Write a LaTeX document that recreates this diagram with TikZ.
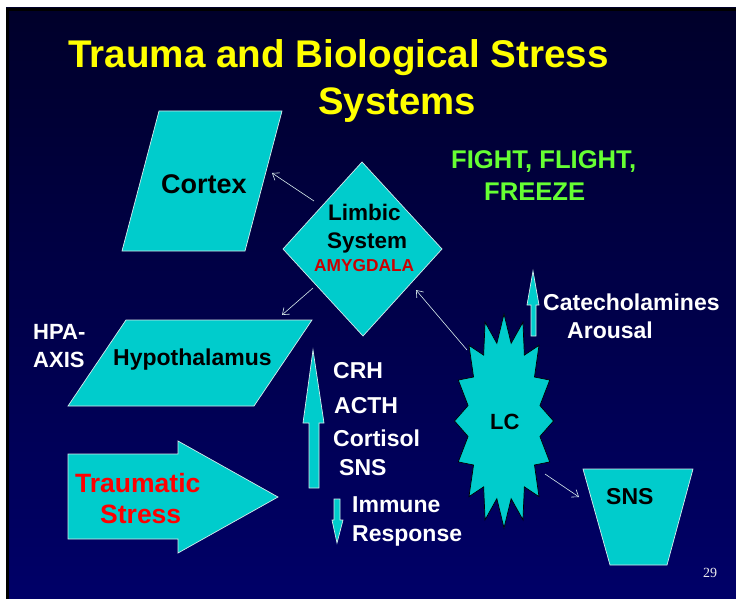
\documentclass[tikz,border=0pt]{standalone}
\usepackage{fontspec}
\setmainfont{Liberation Sans}
\newfontfamily\numfont{Liberation Serif}
\usetikzlibrary{arrows.meta}
\definecolor{bgtop}{RGB}{0,0,42}
\definecolor{bgbot}{RGB}{0,0,104}
\definecolor{cyanfill}{RGB}{0,204,204}
\definecolor{edgecol}{RGB}{215,235,235}
\definecolor{titleyellow}{RGB}{255,255,0}
\definecolor{fightgreen}{RGB}{102,255,51}
\definecolor{amyred}{RGB}{204,0,0}
\definecolor{trred}{RGB}{255,0,0}
\tikzset{
  shapefill/.style={fill=cyanfill, draw=edgecol, line width=0.7pt},
  lbl/.style={anchor=base west, inner sep=0pt, font=\bfseries\fontsize{23}{23}\selectfont},
  conn/.style={draw=edgecol, line width=0.6pt, -{Straight Barb[length=6pt,width=9pt]}},
}
\begin{document}
\begin{tikzpicture}[x=1pt,y=-1pt]
\useasboundingbox (0,0) rectangle (736,599);
\fill[white] (0,0) rectangle (736,599);
% background slide
\begin{scope}[y=1pt]
  \shade[top color=bgtop, bottom color=bgbot] (6,-599) rectangle (736,-8);
\end{scope}
\fill[black] (6,8) rectangle (9,599);
\fill[black] (6,8) rectangle (736,11);

% title
\node[lbl, text=titleyellow, font=\bfseries\fontsize{38.6}{40}\selectfont] (title1) at (68,68) {Trauma and Biological Stress};
\node[lbl, text=titleyellow, font=\bfseries\fontsize{38.3}{40}\selectfont] (title2) at (318,115) {Systems};

% Cortex
\filldraw[shapefill] (159,111) -- (282,111) -- (245,251) -- (122,251) -- cycle;
\node[lbl, font=\bfseries\fontsize{27}{27}\selectfont] (cortex) at (161,193) {Cortex};

% Limbic diamond
\filldraw[shapefill] (362,162) -- (442,249) -- (363,336) -- (283,249) -- cycle;
\node[lbl, font=\bfseries\fontsize{22.5}{23}\selectfont] (limbic1) at (328,220) {Limbic};
\node[lbl, font=\bfseries\fontsize{22.5}{23}\selectfont] (limbic2) at (327,248) {System};
\node[lbl, text=amyred, font=\bfseries\fontsize{17.3}{18}\selectfont] (amyg) at (314,271) {AMYGDALA};

% Hypothalamus
\filldraw[shapefill] (126,320) -- (312,320) -- (254,406) -- (68,406) -- cycle;
\node[lbl] (hypo) at (113,365) {Hypothalamus};
\node[lbl, text=white, font=\bfseries\fontsize{22}{22}\selectfont] (hpa1) at (33,339) {HPA-};
\node[lbl, text=white, font=\bfseries\fontsize{22}{22}\selectfont] (hpa2) at (33,367) {AXIS};

% big up arrow
\filldraw[shapefill] (313,350) -- (324,423) -- (319,423) -- (319,488) -- (309,488) -- (309,423) -- (303,423) -- cycle;
\node[lbl, text=white] (crh) at (333,378) {CRH};
\node[lbl, text=white] (acth) at (334,413) {ACTH};
\node[lbl, text=white] (cort) at (333,446) {Cortisol};
\node[lbl, text=white] (sns1) at (339,475) {SNS};

% small down arrow
\filldraw[shapefill] (334,499) -- (340,499) -- (340,520) -- (343,520) -- (337,543) -- (332,520) -- (334,520) -- cycle;
\node[lbl, text=white] (imm1) at (352,512) {Immune};
\node[lbl, text=white] (imm2) at (352,541) {Response};

% LC starburst
\filldraw[fill=cyanfill, draw=black, line width=0.7pt]
  plot[samples at={0,...,31}, variable=\k]
  ({504+49.5*(0.87+0.13*cos(\k*180))*cos(90+\k*11.25)},
   {421-107*(0.87+0.13*cos(\k*180))*sin(90+\k*11.25)}) -- cycle;
\node[lbl, font=\bfseries\fontsize{22}{22}\selectfont] (lc) at (490,429) {LC};

% catecholamines arrow
\filldraw[shapefill] (533,271) -- (539,305) -- (536,305) -- (536,336) -- (531,336) -- (531,305) -- (527,305) -- cycle;
\node[lbl, text=white] (cat) at (543,310) {Catecholamines};
\node[lbl, text=white] (arou) at (567,338) {Arousal};

% FIGHT FLIGHT FREEZE
\node[lbl, text=fightgreen, font=\bfseries\fontsize{25.6}{26}\selectfont] (ff1) at (451,168) {FIGHT, FLIGHT,};
\node[lbl, text=fightgreen, font=\bfseries\fontsize{25.6}{26}\selectfont] (ff2) at (484,200) {FREEZE};

% Traumatic stress arrow
\filldraw[shapefill] (68,454) -- (178,454) -- (178,441) -- (278,497) -- (178,553) -- (178,539) -- (68,539) -- cycle;
\node[lbl, text=trred, font=\bfseries\fontsize{26.5}{27}\selectfont] (trau1) at (75,492) {Traumatic};
\node[lbl, text=trred, font=\bfseries\fontsize{26.5}{27}\selectfont] (trau2) at (100,523) {Stress};

% SNS trapezoid
\filldraw[shapefill] (583,469) -- (693,469) -- (667,565) -- (610,565) -- cycle;
\node[lbl] (sns2) at (606,504) {SNS};

% page number
\node[anchor=base west, inner sep=0pt, text=white!85!gray, font=\numfont\fontsize{14}{14}\selectfont] (pg) at (703,577) {29};

% connectors
\coordinate (c1s) at (314,201); \coordinate (c1e) at (272,173);
\coordinate (c2s) at (313,288); \coordinate (c2e) at (282,315);
\coordinate (c3s) at (467,350); \coordinate (c3e) at (416,290);
\coordinate (c4s) at (545,474); \coordinate (c4e) at (579,497);
\draw[conn] (c1s) -- (c1e);
\draw[conn] (c2s) -- (c2e);
\draw[conn] (c3s) -- (c3e);
\draw[conn] (c4s) -- (c4e);
\end{tikzpicture}
\end{document}
